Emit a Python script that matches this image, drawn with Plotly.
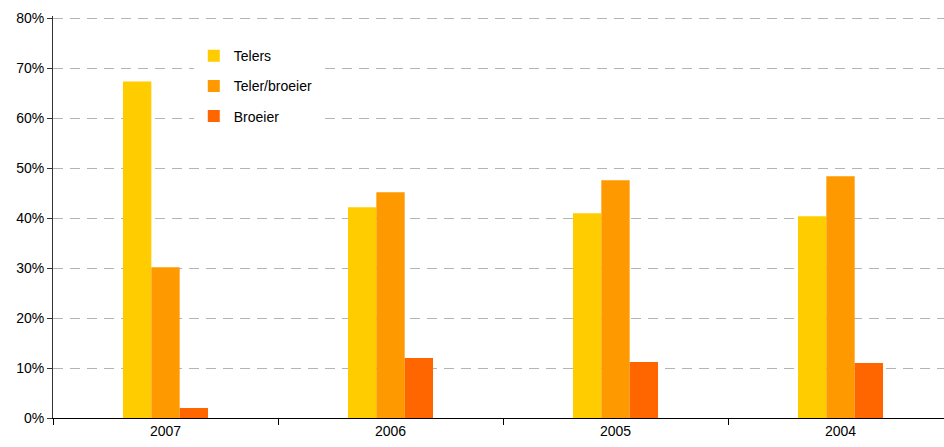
import plotly.graph_objects as go

years = ["2007", "2006", "2005", "2004"]
telers = [67.4, 42.2, 41.0, 40.4]
teler_broeier = [30.2, 45.2, 47.6, 48.4]
broeier = [2.0, 12.0, 11.2, 11.0]
y_ticks = [0, 10, 20, 30, 40, 50, 60, 70, 80]
y_labels = [f"{v}%" for v in y_ticks]

series = [
    ("Telers", telers, "#FFCC00"),
    ("Teler/broeier", teler_broeier, "#FF9900"),
    ("Broeier", broeier, "#FF6600"),
]

fig = go.Figure()
for i, (name, vals, col) in enumerate(series):
    fig.add_trace(go.Bar(x=years, y=vals, name=name, marker_color=col,
                         marker_line_width=0, legendgroup=f"g{i}"))

fig.update_layout(
    width=944, height=447,
    margin=dict(l=53, r=0, t=16, b=29),
    paper_bgcolor="white", plot_bgcolor="white",
    barmode="group", bargap=0.622, bargroupgap=0,
    font=dict(family="Liberation Sans, Arial, sans-serif", size=14, color="black"),
    showlegend=True,
    legend=dict(x=0.158, y=0.940, xanchor="left", yanchor="top",
                bgcolor="white", borderwidth=0, tracegroupgap=9,
                font=dict(size=14), itemwidth=30,
                traceorder="grouped"),
)
fig.update_xaxes(
    type="category", range=[-0.5, 3.46],
    showline=True, linecolor="black", linewidth=1,
    ticks="outside", tickson="boundaries", ticklen=6, tickcolor="black",
    showgrid=False, tickfont=dict(size=14),
)
fig.update_yaxes(
    range=[0, 80.5], tickvals=y_ticks, ticktext=y_labels,
    showline=True, linecolor="#333333", linewidth=1,
    ticks="outside", ticklen=5, tickcolor="#333333",
    showgrid=True, gridcolor="#B4B4B4", griddash="10px,7px", gridwidth=1,
    zeroline=False, tickfont=dict(size=14),
)
fig.write_html("out.html")
